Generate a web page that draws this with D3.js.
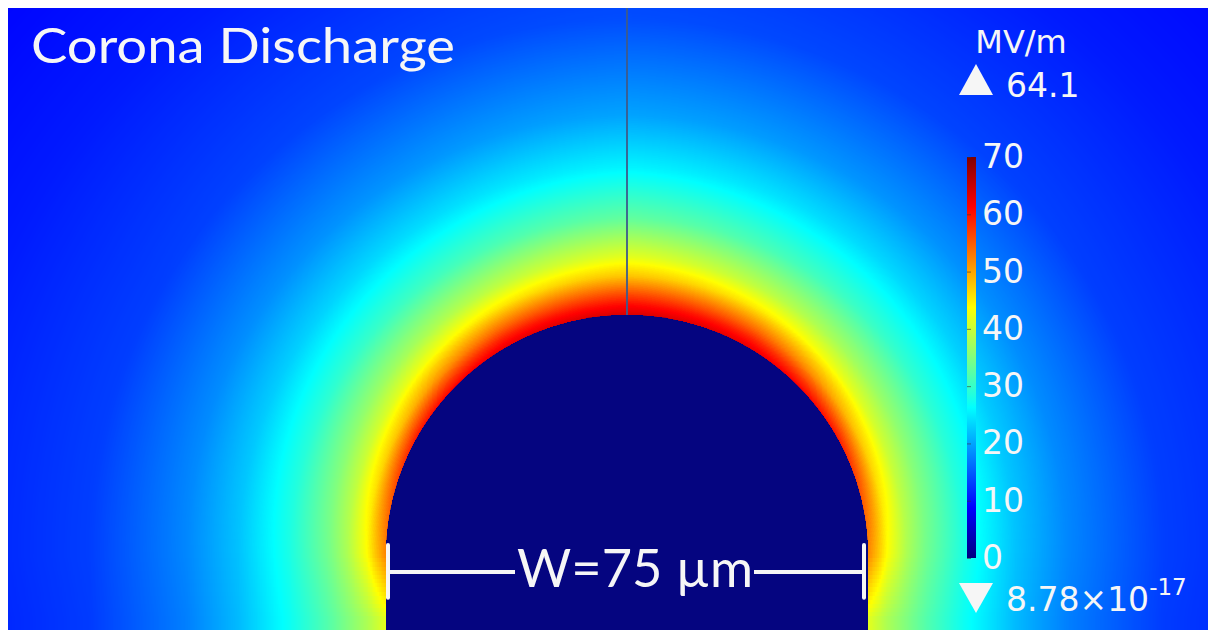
<!DOCTYPE html>
<html>
<head>
<meta charset="utf-8">
<script src="https://cdn.jsdelivr.net/npm/d3@7"></script>
<style>
  html, body { margin: 0; padding: 0; background: #fff; }
  svg { display: block; }
</style>
</head>
<body>
<svg id="chart" width="1208" height="630"></svg>
<script>
// conductor geometry (µm)
const conductorWidth = 75;
const radius = conductorWidth / 2;

// field magnitude (MV/m) read along the surface normal, rows = position on the surface
const surfaceAngles = [-15, 0, 30, 60, 90]; // degrees, negative = down the vertical wall
const normalDist = [0, 1.5, 3, 6, 9, 15, 23, 31, 46, 70, 93, 125]; // µm from the surface
const fieldBelow = [42, 40, 38, 35, 32, 27, 21.5, 17.5, 12.8, 10.3, 9, 8.2];
const fieldSide = [52, 48, 43.5, 38, 34, 28, 22, 18, 13, 10.5, 9, 8.2];
const field30 = [60, 54, 48, 41, 36.5, 29.5, 23, 18.5, 13, 10.5, 9, 8.2];
const field60 = [63, 59, 54, 45, 39, 31, 24, 19, 13.5, 10.5, 9, 8.2];
const fieldTop = [64, 61, 57, 48, 42, 33, 25.5, 20, 14, 11, 9, 8.2];
const fieldRows = [fieldBelow, fieldSide, field30, field60, fieldTop];

const colorTicks = [0, 10, 20, 30, 40, 50, 60, 70];
const maxLabel = '64.1';
const minLabel = '8.78×10';
const minExp = '-17';

// jet colour table
const jetStops = [0, 0.125, 0.375, 0.625, 0.875, 1];
const jetColors = ['#000080', '#0000ff', '#00ffff', '#ffff00', '#ff0000', '#800000'];

const width = 1208, height = 630;
const plot = { left: 8, top: 8, right: 1208, bottom: 630 };
const pxPerUm = 241 / radius;

const x = d3.scaleLinear()
  .domain([(plot.left - 627) / pxPerUm, (plot.right - 627) / pxPerUm])
  .range([plot.left, plot.right]);
const y = d3.scaleLinear()
  .domain([(556 - plot.bottom) / pxPerUm, (556 - plot.top) / pxPerUm])
  .range([plot.bottom, plot.top]);

const color = d3.scaleLinear()
  .domain(jetStops.map(s => s * 70))
  .range(jetColors)
  .interpolate(d3.interpolateRgb)
  .clamp(true);

const svg = d3.select('#chart');

// lookup tables
const lutStep = 0.05;
const lut = d3.range(0, 70 + lutStep, lutStep).map(v => d3.rgb(color(v)));

const rowScales = fieldRows.map(r => d3.scaleLinear().domain(normalDist).range(r).clamp(true));
const angStep = 1, dStep = 0.1;
const angs = d3.range(-20, 91, angStep);
const dists = d3.range(0, 130, dStep);
const table = angs.map(a => {
  const vals = rowScales.map(s => dists.map(d => s(d)));
  return dists.map((d, j) => {
    const col = vals.map(v => v[j]);
    return d3.scaleLinear().domain(surfaceAngles).range(col).clamp(true)(a);
  });
});

// field image
const pw = plot.right - plot.left, ph = plot.bottom - plot.top;
const canvas = document.createElement('canvas');
canvas.width = pw; canvas.height = ph;
const ctx = canvas.getContext('2d');
const img = ctx.createImageData(pw, ph);
for (let j = 0; j < ph; j++) {
  const yu = y.invert(plot.top + j + 0.5);
  for (let i = 0; i < pw; i++) {
    const xu = x.invert(plot.left + i + 0.5);
    let d, a;
    if (yu >= 0) {
      d = Math.hypot(xu, yu) - radius;
      a = Math.atan2(yu, Math.abs(xu)) * 180 / Math.PI;
    } else {
      d = Math.abs(xu) - radius;
      a = -Math.asin(Math.min(1, -yu / radius)) * 180 / Math.PI;
    }
    let v = 0;
    if (d >= 0) {
      const ai = Math.max(0, Math.min(angs.length - 1, Math.round((a + 20) / angStep)));
      const di = Math.min(dists.length - 1, Math.round(d / dStep));
      v = table[ai][di];
    }
    const c = lut[Math.max(0, Math.min(lut.length - 1, Math.round(v / lutStep)))];
    const k = (j * pw + i) * 4;
    img.data[k] = c.r; img.data[k + 1] = c.g; img.data[k + 2] = c.b; img.data[k + 3] = 255;
  }
}
ctx.putImageData(img, 0, 0);

svg.append('image')
  .attr('x', plot.left).attr('y', plot.top)
  .attr('width', pw).attr('height', ph)
  .attr('href', canvas.toDataURL());

// cut line
svg.append('line')
  .attr('x1', x(0)).attr('x2', x(0))
  .attr('y1', plot.top).attr('y2', y(radius))
  .attr('stroke', '#3d5b8c').attr('stroke-width', 1.8);

// conductor
const p = d3.path();
p.moveTo(x(-radius), plot.bottom);
p.lineTo(x(-radius), y(0));
p.arc(x(0), y(0), x(radius) - x(0), Math.PI, 2 * Math.PI);
p.lineTo(x(radius), plot.bottom);
p.closePath();
svg.append('path').attr('d', p.toString()).attr('fill', '#050580');

// title
svg.append('text')
  .attr('x', 31).attr('y', 63)
  .attr('font-family', 'Lato, sans-serif')
  .attr('font-size', 49)
  .attr('fill', '#f6f6f6')
  .attr('textLength', 424).attr('lengthAdjust', 'spacingAndGlyphs')
  .text('Corona Discharge');

// width dimension
const dimY = y(-2.5);
const dim = svg.append('g').attr('stroke', '#f6f6f6').attr('stroke-width', 4).attr('stroke-linecap', 'round');
const capL = x(-radius) + 2, capR = x(radius) - 4;
dim.append('line').attr('x1', capL).attr('x2', capL).attr('y1', y(1.7)).attr('y2', y(-6.5));
dim.append('line').attr('x1', capR).attr('x2', capR).attr('y1', y(1.7)).attr('y2', y(-6.5));
svg.append('text')
  .attr('x', 517).attr('y', y(-4.8))
  .attr('font-family', 'Lato, sans-serif')
  .attr('font-size', 53)
  .attr('fill', '#f6f6f6')
  .attr('textLength', 236).attr('lengthAdjust', 'spacingAndGlyphs')
  .text('W=75 µm');
dim.append('line').attr('x1', capL).attr('x2', 515).attr('y1', dimY).attr('y2', dimY).attr('stroke-linecap', 'butt');
dim.append('line').attr('x1', 754).attr('x2', capR).attr('y1', dimY).attr('y2', dimY).attr('stroke-linecap', 'butt');

// colour legend
const cb = d3.scaleLinear().domain([0, 70]).range([558, 157]);
const grad = svg.append('defs').append('linearGradient')
  .attr('id', 'jet').attr('x1', 0).attr('y1', 1).attr('x2', 0).attr('y2', 0);
jetStops.forEach((s, i) => grad.append('stop').attr('offset', s).attr('stop-color', jetColors[i]));
svg.append('rect')
  .attr('x', 967).attr('y', cb(70)).attr('width', 9).attr('height', cb(0) - cb(70))
  .attr('fill', 'url(#jet)');

const axis = svg.append('g')
  .attr('transform', 'translate(967,0)')
  .call(d3.axisRight(cb).tickValues(colorTicks).tickSize(4).tickPadding(11).tickFormat(d3.format('d')));
axis.select('.domain').remove();
axis.selectAll('.tick line').attr('stroke', '#333').attr('stroke-opacity', 0.6);
axis.selectAll('.tick text')
  .attr('fill', '#f6f6f6')
  .attr('font-family', 'DejaVu Sans, sans-serif')
  .attr('font-size', 33);

const lg = svg.append('g')
  .attr('fill', '#f6f6f6')
  .attr('font-family', 'DejaVu Sans, sans-serif');
lg.append('text').attr('x', 1021).attr('y', 53).attr('text-anchor', 'middle').attr('font-size', 32).text('MV/m');
lg.append('path').attr('d', 'M959,95L993,95L976,64Z');
lg.append('text').attr('x', 1006).attr('y', 97).attr('font-size', 33).text(maxLabel);
lg.append('path').attr('d', 'M959,583L993,583L976,613Z');
const mt = lg.append('text').attr('x', 1006).attr('y', 611).attr('font-size', 33).text(minLabel);
mt.append('tspan').attr('font-size', 23).attr('dy', -16).text(minExp);
</script>
</body>
</html>
